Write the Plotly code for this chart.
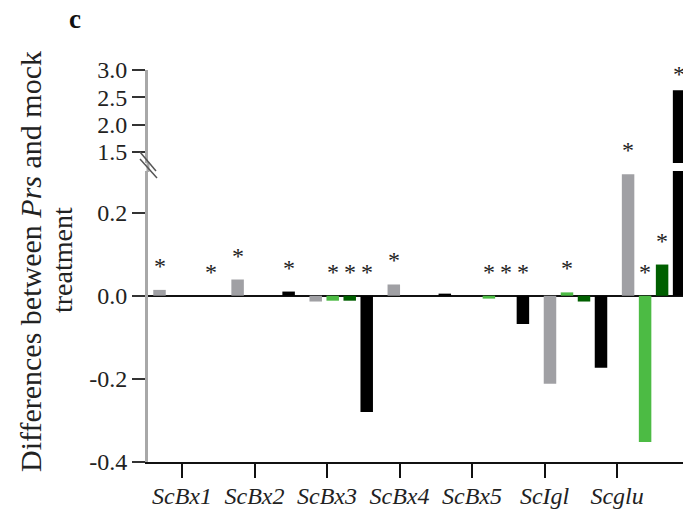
import plotly.graph_objects as go

# ---------------- data ----------------
genes = ["ScBx1", "ScBx2", "ScBx3", "ScBx4", "ScBx5", "ScIgl", "Scglu"]
series_names = ["S1", "S2", "S3", "S4"]
vals_gray = [0.014, 0.039, -0.014, 0.027, 0.0, -0.212, 0.292]
vals_lightgreen = [0.0, 0.0, -0.012, 0.0, -0.007, 0.008, -0.352]
vals_darkgreen = [0.0, 0.0, -0.012, 0.0, 0.0, -0.014, 0.075]
vals_black = [0.0, 0.010, -0.280, 0.005, -0.068, -0.173, 2.63]
sig_gray = [1, 1, 0, 1, 0, 0, 1]
sig_lightgreen = [0, 0, 1, 0, 1, 1, 1]
sig_darkgreen = [0, 0, 1, 0, 1, 0, 1]
sig_black = [1, 1, 1, 0, 1, 0, 1]
lower_ticks = [-0.4, -0.2, 0.0, 0.2]
lower_ticktext = ["-0.4", "-0.2", "0.0", "0.2"]
upper_ticks = [1.5, 2.0, 2.5, 3.0]
upper_ticktext = ["1.5", "2.0", "2.5", "3.0"]

# ---------------- style ----------------
OFF = 8  # page body margin
W, H = 691 - OFF, 512 - OFF
# plot area in screen pixels: x 148..691, y 60..462
ML, MR, MT, MB = 148 - OFF, 0, 60 - OFF, 512 - 462
PW, PH = W - ML - MR, H - MT - MB


def px_x(p):
    return (p - 148) / PW


def px_y(p):
    return (462 - p) / PH


colors = ["#a0a0a4", "#4cbb44", "#005f00", "#000000"]
all_vals = [vals_gray, vals_lightgreen, vals_darkgreen, vals_black]
all_sig = [sig_gray, sig_lightgreen, sig_darkgreen, sig_black]
bar_w = 0.16
centers = [-0.3266, -0.1089, 0.1089, 0.3266]
LOWER_MAX = 0.3
SERIF = "Liberation Serif, Times New Roman, serif"

fig = go.Figure()
for k in range(4):
    for ax in ["y", "y2"]:
        fig.add_trace(go.Bar(
            x=genes, y=all_vals[k], name=series_names[k],
            marker=dict(color=colors[k], line=dict(width=0)),
            width=bar_w, offset=centers[k] - bar_w / 2,
            xaxis="x", yaxis=ax, showlegend=False, hoverinfo="x+y",
        ))

# invisible trace for label axis
fig.add_trace(go.Scatter(x=[0], y=[0], xaxis="x3", yaxis="y", mode="markers",
                         marker=dict(opacity=0), showlegend=False, hoverinfo="skip"))

annotations = []
for k in range(4):
    for i, g in enumerate(genes):
        if all_sig[k][i]:
            v = all_vals[k][i]
            upper = v > LOWER_MAX
            annotations.append(dict(
                x=i + centers[k], y=max(v, 0.0), xref="x",
                yref="y2" if upper else "y",
                text="*", showarrow=False, xanchor="center", yanchor="middle",
                yshift=16 if upper else 24,
                font=dict(family=SERIF, size=24, color="#222"),
            ))

annotations.append(dict(x=px_x(75), y=px_y(19), xref="paper", yref="paper",
                        text="<b>c</b>", showarrow=False,
                        xanchor="center", yanchor="middle",
                        font=dict(family=SERIF, size=27, color="#111")))
annotations.append(dict(x=px_x(30), y=px_y(262), xref="paper", yref="paper",
                        text="Differences between <i>Prs</i> and mock", textangle=-90,
                        showarrow=False, xanchor="center", yanchor="middle",
                        font=dict(family=SERIF, size=30, color="#222")))
annotations.append(dict(x=px_x(63), y=px_y(260), xref="paper", yref="paper",
                        text="treatment", textangle=-90,
                        showarrow=False, xanchor="center", yanchor="middle",
                        font=dict(family=SERIF, size=28, color="#222")))

shapes = [
    # axis continuation through the break
    dict(type="line", xref="paper", yref="paper", x0=0, x1=0,
         y0=px_y(172), y1=px_y(162), line=dict(color="#a8a8a8", width=3)),
    # break marks
    dict(type="line", xref="paper", yref="paper", x0=px_x(140), x1=px_x(156),
         y0=px_y(152), y1=px_y(171), line=dict(color="#555", width=1.5)),
    dict(type="line", xref="paper", yref="paper", x0=px_x(140), x1=px_x(157),
         y0=px_y(159), y1=px_y(178), line=dict(color="#555", width=1.5)),
]

fig.update_layout(
    width=W, height=H,
    margin=dict(l=ML, r=MR, t=MT, b=MB),
    paper_bgcolor="white", plot_bgcolor="white",
    barmode="overlay",
    font=dict(family=SERIF, color="#222"),
    xaxis=dict(domain=[0, 1], anchor="y", type="category",
               range=[-0.474, 6.479], showticklabels=False, ticks="",
               showline=False, showgrid=False, zeroline=False),
    xaxis3=dict(overlaying="x", anchor="y", side="bottom", type="linear",
                range=[-0.469, 7.02], tickmode="array",
                tickvals=list(range(len(genes))), ticktext=genes,
                ticks="outside", ticklen=14, tickwidth=2, tickcolor="#111",
                ticklabelstandoff=-3,
                showline=True, linecolor="#111", linewidth=2,
                showgrid=False, zeroline=False,
                tickfont=dict(family=SERIF, size=24, color="#222", style="italic")),
    yaxis=dict(domain=[0, px_y(171)], range=[-0.4, LOWER_MAX],
               tickmode="array", tickvals=lower_ticks, ticktext=lower_ticktext,
               ticks="outside", ticklen=13, tickwidth=2, tickcolor="#333",
               showline=True, linecolor="#a8a8a8", linewidth=3,
               showgrid=False, zeroline=True, zerolinecolor="#111", zerolinewidth=2,
               tickfont=dict(family=SERIF, size=24, color="#222")),
    yaxis2=dict(domain=[px_y(163), px_y(70)], range=[1.3, 3.0], anchor="x",
                tickmode="array", tickvals=upper_ticks, ticktext=upper_ticktext,
                ticks="outside", ticklen=13, tickwidth=2, tickcolor="#333",
                showline=True, linecolor="#a8a8a8", linewidth=3,
                showgrid=False, zeroline=False,
                tickfont=dict(family=SERIF, size=24, color="#222")),
    annotations=annotations,
    shapes=shapes,
)

fig.write_html("out.html")
